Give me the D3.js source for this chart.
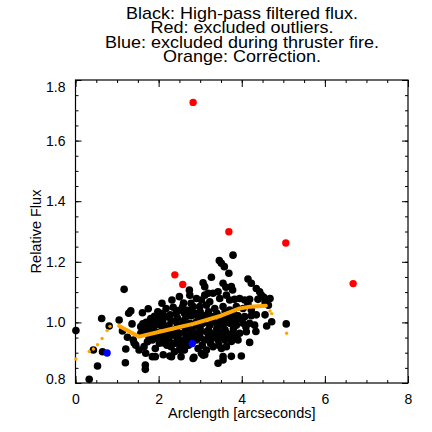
<!DOCTYPE html>
<html>
<head>
<meta charset="utf-8">
<script src="https://cdn.jsdelivr.net/npm/d3@7"></script>
<style>
  body { margin: 0; background: #fff; }
  text { font-family: "Liberation Sans", Arial, sans-serif; fill: #000; }
</style>
</head>
<body>
<div id="chart"></div>
<script>
// chart values
var titleLines = [
  "Black: High-pass filtered flux.",
  "Red: excluded outliers.",
  "Blue: excluded during thruster fire.",
  "Orange: Correction."
];
var xTicks = [0, 2, 4, 6, 8];
var yTicks = [0.8, 1.0, 1.2, 1.4, 1.6, 1.8];

// black: high-pass filtered flux [arclength, flux]
var fluxPoints = [
  [0.01,0.973],[0.33,0.812],[0.53,0.856],[0.63,1.013],[0.65,0.903],[0.43,0.909],[0.81,0.988],
  [1.17,1.109],[1.05,1.008],[1.13,0.972],[1.28,1.030],[1.33,1.038],[1.36,0.995],[1.21,0.912],
  [1.20,0.867],[1.25,0.951],[1.39,0.942],[1.45,0.925],[1.53,0.909],[1.61,1.032],[1.57,0.986],
  [1.57,0.964],[1.65,0.975],[1.69,0.898],[1.68,0.859],[1.68,0.845],[1.81,1.013],[1.85,0.887],
  [1.92,0.887],[1.98,1.035],[2.00,1.013],[2.08,1.063],[2.10,0.953],[2.11,0.893],[2.18,1.046],
  [2.22,1.019],[2.18,0.986],[2.26,0.964],[2.30,0.920],[2.31,0.887],[2.32,1.074],[2.42,1.030],
  [2.42,1.002],[2.42,0.980],[2.50,1.085],[2.54,0.942],[2.54,0.887],[2.58,1.052],[2.66,1.019],
  [2.70,0.986],[2.66,0.958],[2.62,0.909],[2.74,1.107],[2.78,1.063],[2.82,1.030],[2.83,0.881],
  [1.92,0.969],[1.85,0.942],[2.02,0.931],[1.92,0.914],[1.73,0.936],[1.77,0.953],[1.65,0.920],
  [2.14,0.931],[2.22,0.947],[2.50,0.964],[2.42,0.931],[2.38,0.903],[1.41,0.932],[2.27,0.889],
  [2.60,1.064],[3.07,0.892],
  [3.79,1.222],[3.46,1.204],[3.51,1.195],[3.58,1.184],[3.69,1.162],[3.27,1.149],[3.07,1.131],
  [3.11,1.118],[3.55,1.129],[3.62,1.116],[3.75,1.118],[3.78,1.107],[4.15,1.143],[4.23,1.129],
  [4.35,1.112],[4.43,1.101],[4.47,1.090],[3.43,1.101],[3.31,1.096],[3.19,1.096],[3.11,1.090],
  [2.91,1.079],[2.75,1.090],[3.03,1.074],[3.23,1.068],[3.47,1.079],[3.63,1.090],[3.71,1.074],
  [3.83,1.076],[3.95,1.079],[4.07,1.074],[4.19,1.076],[4.39,1.076],[4.53,1.083],[4.68,1.079],
  [4.56,1.068],[4.64,1.057],[2.83,1.052],[2.99,1.052],[3.15,1.057],[3.35,1.046],[3.55,1.052],
  [3.71,1.041],[3.87,1.052],[4.03,1.046],[4.23,1.041],[4.35,1.025],[4.56,1.025],[4.72,1.002],
  [2.79,1.022],[2.95,1.019],[3.11,1.022],[3.27,1.019],[3.43,1.022],[3.59,1.019],[3.75,1.019],
  [3.91,1.022],[4.07,1.019],[4.23,1.022],
  [2.75,0.997],[2.91,0.991],[3.07,0.997],[3.23,0.991],[3.39,0.997],[3.55,0.991],[3.71,0.997],
  [3.87,0.991],[4.03,0.997],[4.19,0.997],[4.31,0.991],[4.60,0.988],[5.07,0.995],
  [2.83,0.969],[2.99,0.964],[3.15,0.969],[3.31,0.964],[3.47,0.969],[3.63,0.964],[3.79,0.969],
  [3.95,0.964],[4.11,0.969],[4.34,0.970],
  [2.91,0.942],[3.11,0.942],[3.27,0.947],[3.43,0.942],[3.59,0.942],[3.75,0.937],[3.91,0.942],
  [4.19,0.934],
  [2.95,0.914],[3.15,0.909],[3.31,0.920],[3.51,0.914],[3.63,0.920],
  [3.03,0.898],[3.11,0.893],[2.85,0.885],[3.55,0.887],[3.99,0.889],[3.43,0.865],[3.55,0.876],
  [3.75,0.888],
  [1.70,1.000],[1.75,0.985],[1.85,1.000],[1.90,0.990],[1.95,1.005],[2.05,0.990],[2.10,1.005],
  [2.15,0.975],[2.25,0.990],[2.30,1.005],[2.35,0.960],[2.45,0.950],[2.55,0.990],[2.60,1.005],
  [2.65,0.975],[2.75,0.965],[2.80,0.975],[2.70,0.945],[2.85,0.950],[2.60,0.935],[1.80,0.970],
  [1.95,0.950],[2.05,0.945],[2.20,0.925],[2.35,0.930],[2.50,0.910],[2.50,1.040],[2.62,1.030],
  [2.70,1.040],[2.35,1.050],[2.10,1.030],[2.28,1.025],[1.90,1.020],[1.75,1.045],[2.00,0.965],
  [2.15,0.955],[2.40,0.955],[2.95,0.965],[2.90,1.000],[2.88,1.030],[3.00,1.035],[3.20,1.035],
  [3.40,1.030],[3.60,1.035],[3.80,1.030],[3.00,0.980],[3.20,0.975],[3.40,0.980],[3.60,0.975],
  [3.80,0.980],[3.00,1.005],[3.30,1.005],[3.50,1.005],[3.65,1.005],[3.85,1.005],[3.00,0.950],
  [3.20,0.955],[3.40,0.955],[3.55,0.955],[3.70,0.950],
  [1.62,0.995],[1.88,0.960],[2.05,1.020],[2.25,0.940],[2.45,1.015],[2.55,0.920],[2.72,0.925],
  [3.05,0.925],[3.25,0.930],[3.45,0.925],[3.85,0.955],[4.00,1.010],[4.10,0.985],[4.15,1.060]
];

// red: excluded outliers
var outlierPoints = [[2.83,1.726],[3.69,1.299],[5.06,1.262],[2.39,1.157],[2.58,1.125],[6.68,1.128]];

// blue: excluded during thruster fire
var thrusterPoints = [[0.76,0.899],[2.81,0.930]];

// orange: correction (dense run drawn as a line, sparse ends as dots)
var correctionLine = [[1.05,0.988],[1.53,0.953],[2.2,0.975],[2.83,0.995],[3.5,1.022],[3.95,1.046],[4.2,1.052],[4.58,1.055]];
var correctionDots = [[0.01,0.879],[0.33,0.904],[0.43,0.912],[0.53,0.926],[0.64,0.947],[0.76,0.973],[0.83,0.987],
  [4.68,1.038],[4.72,1.029],[5.08,0.964]];

var svgWidth = 432;
var svgHeight = 432;
var plot = { left: 75.5, right: 408, top: 80, bottom: 383 };

var svg = d3.select("#chart")
  .append("svg")
  .attr("width", svgWidth)
  .attr("height", svgHeight);

svg.append("rect")
  .attr("width", svgWidth)
  .attr("height", svgHeight)
  .attr("fill", "#fff");

var xScale = d3.scaleLinear()
  .domain([0, 8])
  .range([plot.left, plot.right]);

var yScale = d3.scaleLinear()
  .domain([0.8, 1.8])
  .range([plot.bottom, plot.top]);

// title (the original font is a little wider than Liberation Sans)
svg.append("g")
  .selectAll("text")
  .data(titleLines)
  .join("text")
  .attr("transform", (d, i) => "translate(242," + [19, 32.5, 47.5, 61.5][i] + ") scale(1.11,1)")
  .attr("text-anchor", "middle")
  .style("font-size", "16.2px")
  .text(d => d);

// axes: inward ticks on all four sides, minor ticks included
function minor(step, lo, hi) {
  return d3.range(lo, hi + 1e-9, step);
}
var xMinor = minor(0.5, 0, 8);
var yMinor = minor(0.05, 0.8, 1.8);

svg.append("g")
  .attr("transform", "translate(0," + plot.bottom + ")")
  .call(d3.axisBottom(xScale).tickValues(xMinor).tickSize(-3).tickFormat(""))
  .call(g => g.select(".domain").remove());
svg.append("g")
  .attr("transform", "translate(0," + plot.bottom + ")")
  .call(d3.axisBottom(xScale).tickValues(xTicks).tickSize(-7).tickPadding(11).tickFormat(d3.format("d")))
  .call(g => g.select(".domain").remove())
  .call(g => g.selectAll("text").style("font-size", "14px").attr("fill", "#000"));
svg.append("g")
  .attr("transform", "translate(0," + plot.top + ")")
  .call(d3.axisTop(xScale).tickValues(xMinor).tickSize(-3).tickFormat(""))
  .call(g => g.select(".domain").remove());
svg.append("g")
  .attr("transform", "translate(0," + plot.top + ")")
  .call(d3.axisTop(xScale).tickValues(xTicks).tickSize(-7).tickFormat(""))
  .call(g => g.select(".domain").remove());

svg.append("g")
  .attr("transform", "translate(" + plot.left + ",0)")
  .call(d3.axisLeft(yScale).tickValues(yMinor).tickSize(-3).tickFormat(""))
  .call(g => g.select(".domain").remove());
svg.append("g")
  .attr("transform", "translate(" + plot.left + ",0)")
  .call(d3.axisLeft(yScale).tickValues(yTicks).tickSize(-6).tickPadding(10).tickFormat(d3.format(".1f")))
  .call(g => g.select(".domain").remove())
  .call(g => g.selectAll("text").style("font-size", "14px").attr("fill", "#000")
    .attr("dy", d => d === 1.8 ? "0.85em" : d === 0.8 ? "0.05em" : "0.32em"));
svg.append("g")
  .attr("transform", "translate(" + plot.right + ",0)")
  .call(d3.axisRight(yScale).tickValues(yMinor).tickSize(-3).tickFormat(""))
  .call(g => g.select(".domain").remove());
svg.append("g")
  .attr("transform", "translate(" + plot.right + ",0)")
  .call(d3.axisRight(yScale).tickValues(yTicks).tickSize(-6).tickFormat(""))
  .call(g => g.select(".domain").remove());

svg.selectAll(".tick line").attr("stroke", "#000");

svg.append("rect")
  .attr("x", plot.left)
  .attr("y", plot.top)
  .attr("width", plot.right - plot.left)
  .attr("height", plot.bottom - plot.top)
  .attr("fill", "none")
  .attr("stroke", "#000")
  .attr("stroke-width", 1.2);

// axis titles
svg.append("text")
  .attr("x", (plot.left + plot.right) / 2)
  .attr("y", 418)
  .attr("text-anchor", "middle")
  .style("font-size", "14.5px")
  .text("Arclength [arcseconds]");

svg.append("text")
  .attr("transform", "translate(41," + (plot.top + plot.bottom) / 2 + ") rotate(-90)")
  .attr("text-anchor", "middle")
  .style("font-size", "14.5px")
  .text("Relative Flux");

// points
var marks = svg.append("g");

marks.selectAll(".flux")
  .data(fluxPoints)
  .join("circle")
  .attr("class", "flux")
  .attr("cx", d => xScale(d[0]))
  .attr("cy", d => yScale(d[1]))
  .attr("r", 3.8)
  .attr("fill", "#000");

marks.selectAll(".thruster")
  .data(thrusterPoints)
  .join("circle")
  .attr("class", "thruster")
  .attr("cx", d => xScale(d[0]))
  .attr("cy", d => yScale(d[1]))
  .attr("r", 3.7)
  .attr("fill", "#0000ff");

marks.selectAll(".outlier")
  .data(outlierPoints)
  .join("circle")
  .attr("class", "outlier")
  .attr("cx", d => xScale(d[0]))
  .attr("cy", d => yScale(d[1]))
  .attr("r", 3.7)
  .attr("fill", "#ff0000");

var correction = d3.line()
  .x(d => xScale(d[0]))
  .y(d => yScale(d[1]));

marks.append("path")
  .attr("d", correction(correctionLine))
  .attr("fill", "none")
  .attr("stroke", "#ffa500")
  .attr("stroke-width", 4)
  .attr("stroke-linecap", "round")
  .attr("stroke-linejoin", "round");

marks.selectAll(".corr")
  .data(correctionDots)
  .join("circle")
  .attr("class", "corr")
  .attr("cx", d => xScale(d[0]))
  .attr("cy", d => yScale(d[1]))
  .attr("r", 1.7)
  .attr("fill", "#ffa500");
</script>
</body>
</html>
